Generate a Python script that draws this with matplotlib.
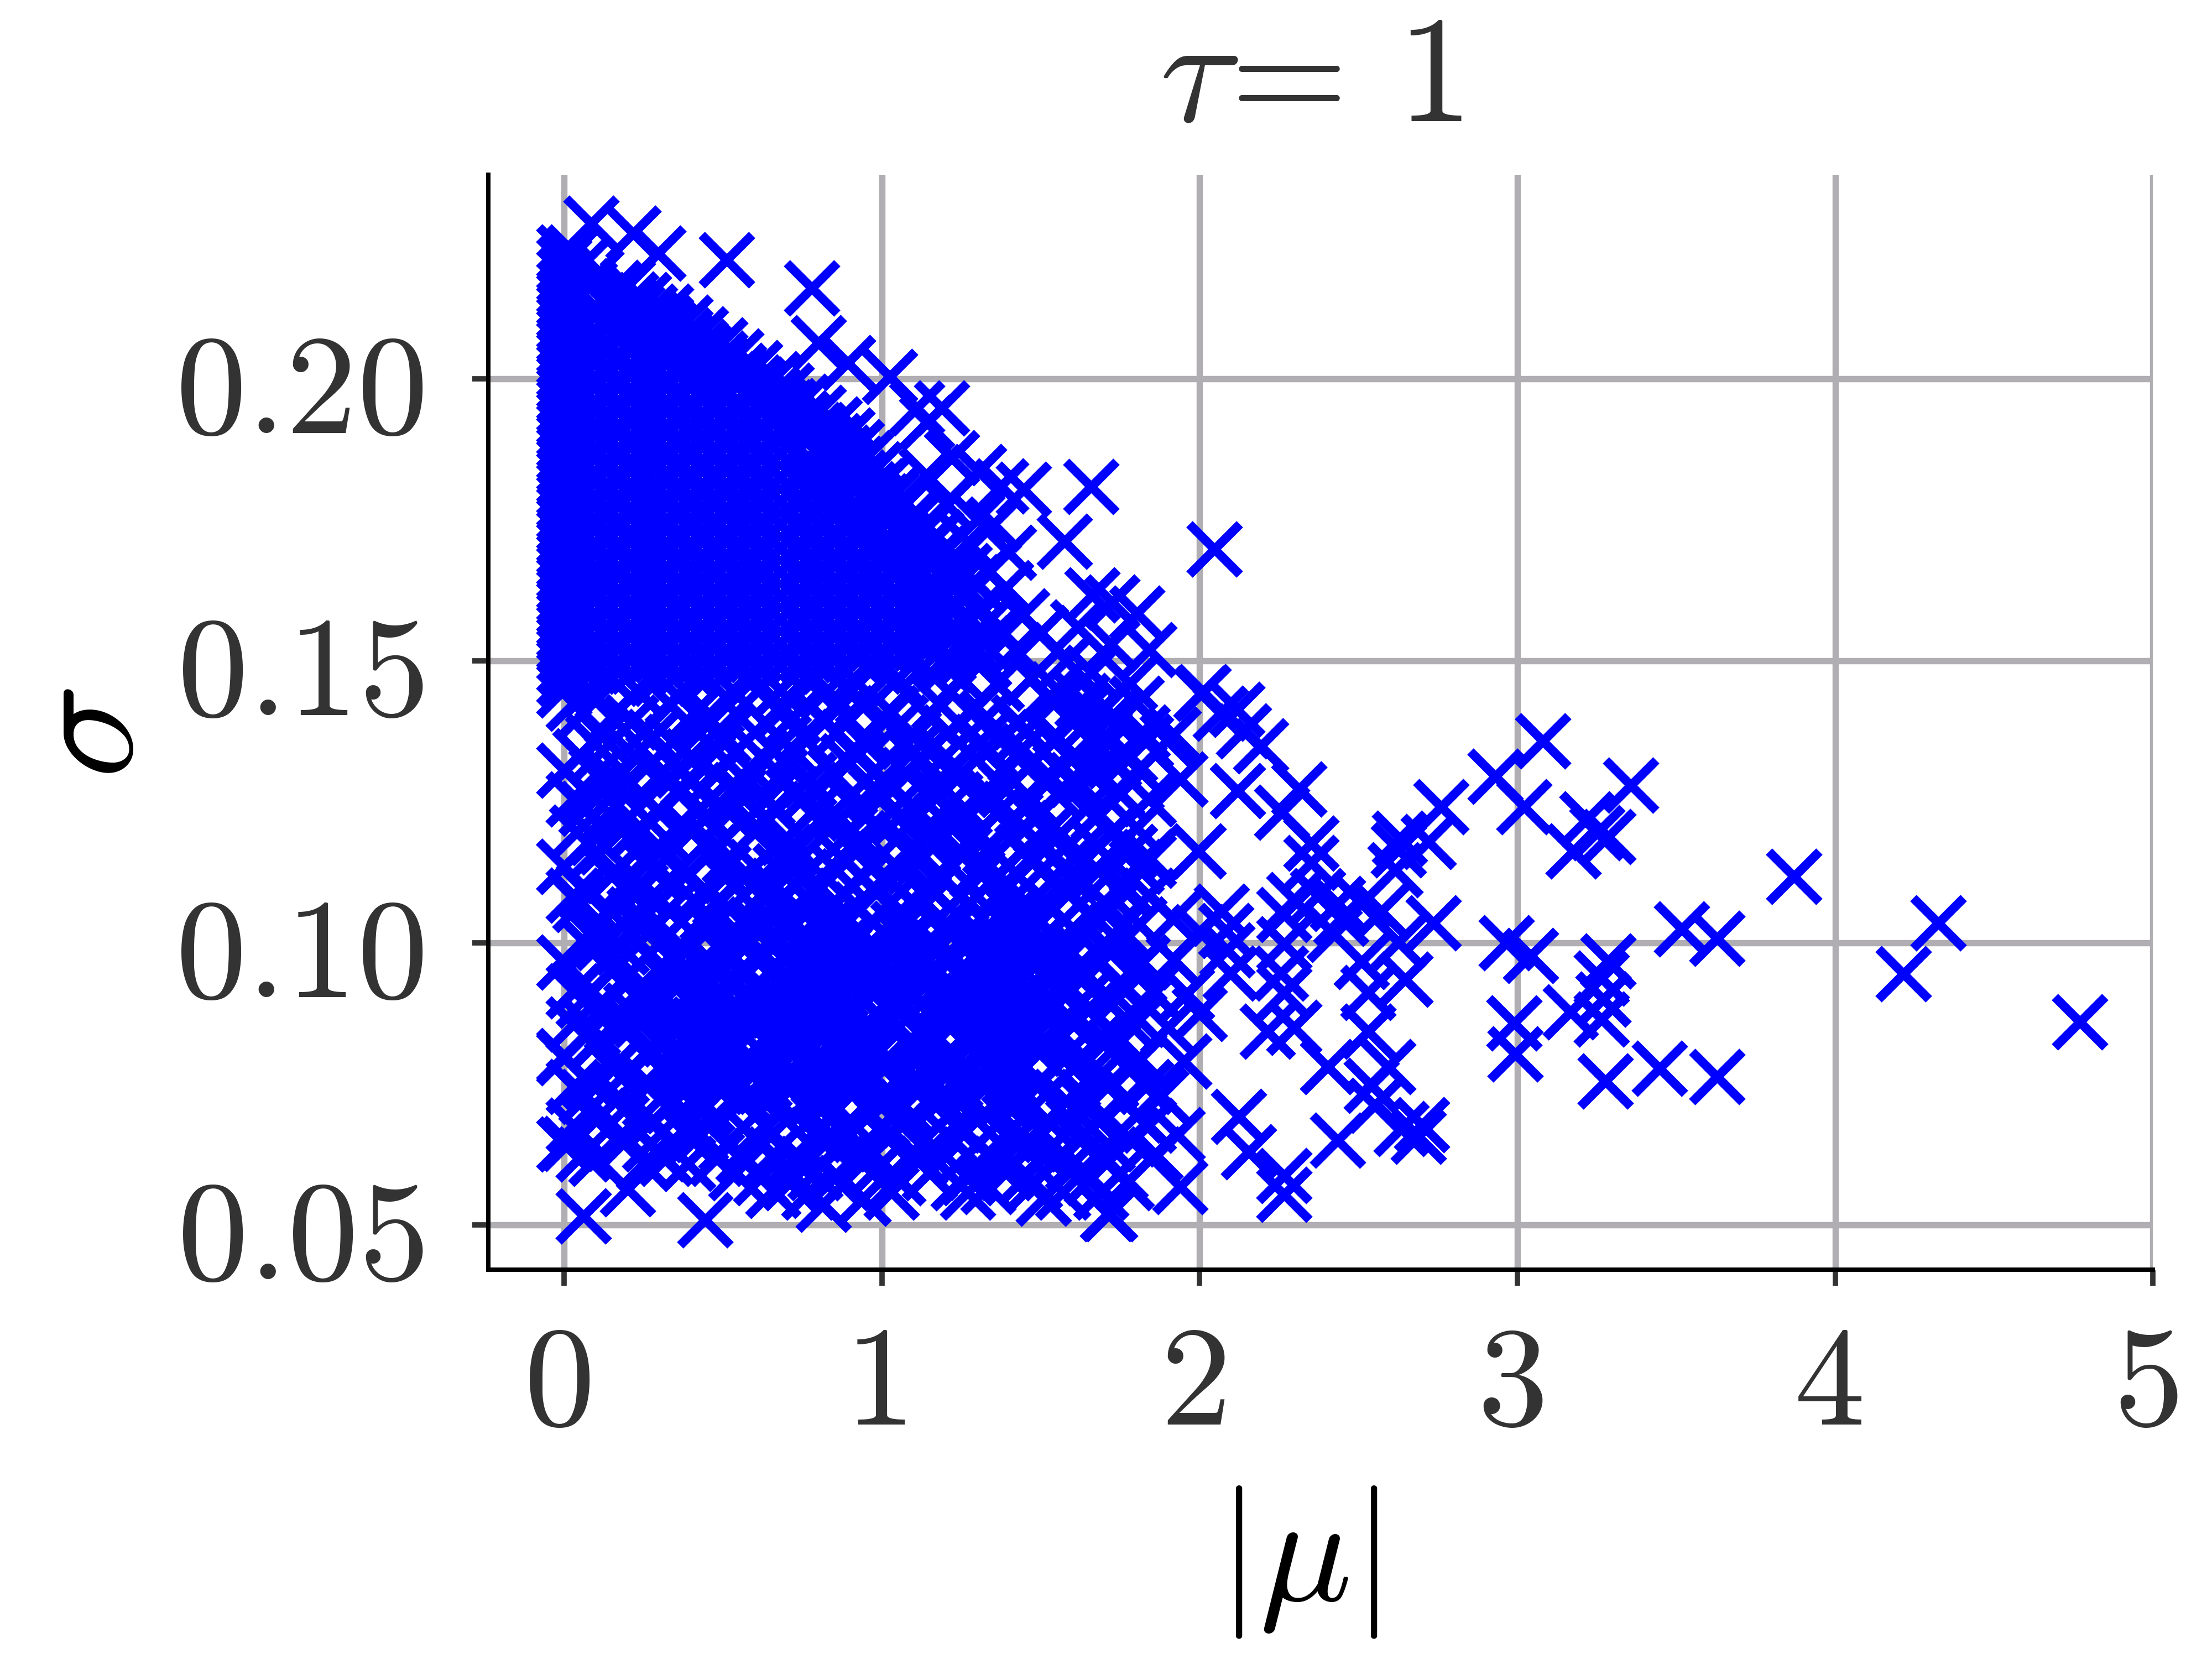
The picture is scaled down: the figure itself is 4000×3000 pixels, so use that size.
import matplotlib
matplotlib.use("Agg")
import matplotlib.pyplot as plt
from matplotlib.transforms import ScaledTranslation

plt.rcParams["mathtext.fontset"] = "cm"
plt.rcParams["font.family"] = "DejaVu Sans"

x_ticks = [0, 1, 2, 3, 4, 5]
x_tick_labels = ["$0$", "$1$", "$2$", "$3$", "$4$", "$5$"]
y_ticks = [0.05, 0.10, 0.15, 0.20]
y_tick_labels = ["$0.05$", "$0.10$", "$0.15$", "$0.20$"]

# solid upper block, read row by row (sigma level -> |mu| values)
block_sigma = [.2225, .2204, .2183, .2162, .2141, .2120, .2099, .2078, .2057, .2036,
               .2015, .1994, .1973, .1952, .1931, .1910, .1889, .1868, .1847, .1826,
               .1805, .1784, .1763, .1742, .1721, .1700, .1679, .1658, .1637, .1616,
               .1595, .1574, .1553, .1532, .1511, .1490, .1469, .1448]
block_mu = [
    [0, .03], [0, .06], [0, .10], [0, .08, .16], [0, .15, .21], [0, .08, .23, .27],
    [0, .15, .30, .32], [0, .08, .23, .38], [0, .15, .30, .43], [0, .08, .23, .38, .49],
    [0, .15, .30, .45, .55], [0, .08, .23, .38, .53, .60], [0, .15, .30, .45, .60, .66],
    [0, .08, .23, .38, .53, .68, .71], [0, .15, .30, .45, .60, .75], [0, .08, .23, .38, .53, .68, .79],
    [0, .15, .30, .45, .60, .76, .82], [0, .08, .23, .38, .53, .68, .83, .86],
    [0, .15, .30, .45, .60, .76, .89], [0, .08, .23, .38, .53, .68, .83, .93],
    [0, .15, .30, .45, .60, .76, .91, .96], [0, .08, .23, .38, .53, .68, .83, .98, 1.0],
    [0, .15, .30, .45, .60, .76, .91, 1.03], [0, .08, .23, .38, .53, .68, .83, .98, 1.07],
    [0, .15, .30, .45, .60, .76, .91, 1.06, 1.10], [0, .08, .23, .38, .53, .68, .83, .98, 1.13, 1.14],
    [0, .15, .30, .45, .60, .76, .91, 1.06, 1.17], [0, .08, .23, .38, .53, .68, .83, .98, 1.13, 1.21],
    [0, .15, .30, .45, .60, .76, .91, 1.06, 1.21, 1.24], [0, .08, .23, .38, .53, .68, .83, .98, 1.13, 1.27],
    [0, .15, .30, .45, .60, .76, .91, 1.06, 1.21, 1.31], [0, .08, .23, .38, .53, .68, .83, .98, 1.13, 1.28, 1.34],
    [0, .15, .30, .45, .60, .76, .91, 1.06, 1.21, 1.36], [0, .08, .23, .38, .53, .68, .83, .98, 1.13, 1.28, 1.32],
    [0, .15, .30, .45, .60, .76, .91, 1.06, 1.21, 1.27], [0, .08, .23, .38, .53, .68, .83, .98, 1.13, 1.2],
    [0, .15, .30, .45, .60, .76, .91, 1.05], [0, .08, .23, .38, .53, .68, .83, .9],
]

# crosses filling out the sloping edge of the block
slope_mu = [.20, .25, .32, .38, .43, .49, .54, .60, .66, .70, .75, .80, .85, .89, .92, .95, .98, 1.01, 1.04, 1.07,
            1.10, 1.14, 1.17, 1.20, 1.22, 1.26, 1.29,
            .15, .21, .27, .33, .38, .44, .49, .55, .61, .65, .70, .75, .80, .85, .88, .92, .96, .99, 1.03, 1.06,
            1.10, 1.13, 1.15, 1.18, 1.20, 1.23,
            1.2, 1.27, 1.33, 1.39, 1.44, 1.3, 1.22, 1.14,
            1.32, 1.42, 1.5, 1.58, 1.66, 1.72, 1.47, 1.55, 1.63, 1.7, 1.78, 1.36, 1.25]
slope_sigma = [.2165, .2140, .2120, .2100, .2080, .2060, .2040, .2020, .2000, .1980, .1960, .1940, .1920, .1900, .1880,
               .1860, .1840, .1820, .1800, .1780, .1760, .1740, .1720, .1700, .1680, .1660, .1640,
               .2150, .2130, .2110, .2090, .2070, .2050, .2030, .2010, .1990, .1970, .1950, .1930, .1910, .1890, .1870,
               .1850, .1830, .1810, .1790, .1770, .1750, .1730, .1710, .1690, .1670, .1650,
               .178, .171, .166, .163, .158, .175, .186, .183,
               .15, .152, .155, .15, .148, .153, .147, .145, .143, .142, .146, .146, .147]

# lower region with small gaps between markers
mid_sigma = [.1425, .1408, .1391, .1374, .1357, .1340, .1323, .1306, .1289, .1272,
             .1255, .1238, .1221, .1204, .1187, .1170, .1153, .1136, .1119, .1102,
             .1085, .1068, .1051, .1034, .1017, .1000, .0983, .0966, .0949, .0932,
             .0915, .0898, .0881, .0864, .0847, .0830, .0813, .0796, .0779, .0762,
             .0745, .0728, .0711, .0694, .0677, .0660, .0643, .0626, .0609, .0592,
             .0575, .0558]
mid_mu = [
    [.03, .33, .57, .93, 1.18, 1.54, 1.80], [.06, .41, .68, 1.03, 1.28, 1.63], [.21, .46, .82, 1.06, 1.43, 1.65],
    [.25, .60, .86, 1.21, 1.45, 1.82], [.09, .34, .69, .94, 1.31, 1.54, 1.83], [.12, .48, .72, 1.10, 1.32, 1.69],
    [.28, .51, .89, 1.11, 1.48, 1.73], [0, .37, .59, .98, 1.21, 1.56, 1.81], [.16, .39, .77, 1.0, 1.36, 1.61],
    [.17, .55, .78, 1.16, 1.39, 1.74], [.03, .26, .64, .89, 1.23, 1.47, 1.84], [.07, .43, .66, 1.04, 1.26, 1.64],
    [.20, .44, .83, 1.05, 1.42, 1.67], [.24, .61, .84, 1.22, 1.44, 1.80], [.10, .32, .70, .93, 1.29, 1.55],
    [.13, .48, .72, 1.09, 1.34, 1.68], [.26, .52, .87, 1.13, 1.47, 1.71], [0, .37, .60, .96, 1.22, 1.58, 1.80],
    [.15, .38, .75, 1.01, 1.36, 1.59], [.19, .53, .80, 1.14, 1.40, 1.76], [.03, .28, .62, .88, 1.25, 1.49, 1.84],
    [.05, .42, .67, 1.02, 1.27, 1.62], [.22, .45, .81, 1.07, 1.41, 1.66], [.23, .60, .85, 1.20, 1.46, 1.81],
    [.08, .33, .70, .94, 1.31, 1.53], [.12, .49, .73, 1.08, 1.33, 1.70], [.27, .50, .88, 1.12, 1.49, 1.72],
    [0, .35, .61, .97, 1.20, 1.57, 1.82], [.15, .40, .76, .99, 1.36, 1.60], [.18, .54, .78, 1.15, 1.38, 1.75],
    [.03, .27, .64, .87, 1.24, 1.47, 1.85], [.06, .41, .67, 1.03, 1.28, 1.63], [.21, .46, .82, 1.05, 1.42, 1.65],
    [.24, .59, .85, 1.21, 1.44, 1.81], [.09, .34, .69, .93, 1.30, 1.55], [.11, .48, .72, 1.09, 1.34, 1.68],
    [.27, .52, .88, 1.11, 1.48, 1.73], [0, .36, .59, .97, 1.22, 1.57, 1.81], [.15, .39, .76, 1.01, 1.35, 1.60],
    [.18, .54, .80, 1.15, 1.40, 1.68], [.03, .26, .63, .88, 1.23, 1.49, 1.83], [.07, .42, .66, 1.03, 1.27, 1.64],
    [.20, .45, .82, 1.07, 1.42, 1.65], [.25, .60, .84, 1.21, 1.45, 1.80], [.03, .39, .63, 1.0, 1.23, 1.60, 1.84],
    [.18, .43, .79, 1.02, 1.39, 1.64], [0, .27, .51, .87, 1.12, 1.47, 1.71], [.06, .30, .66, .92, 1.27, 1.51, 1.86],
    [.25, .39, .76, 1.0, 1.37, 1.60], [.54, .79, 1.15, 1.39, 1.75], [.71, .88, 1.24, 1.48, 1.77],
    [.77, 1.03, 1.27, 1.57, 1.69],
]

# more crosses over the same lower region, leaving only small holes
fill_sigma = [.1400, .1366, .1332, .1298, .1264, .1230, .1196, .1162, .1128, .1094, .1060, .1026, .0992,
              .0958, .0924, .0890, .0856, .0822, .0788, .0754, .0720, .0686, .0652, .0618, .0584]
fill_mu = [
    [.15, .45, .72, 1.0, 1.15, 1.33, 1.6, 1.72], [.12, .28, .5, .75, .95, 1.1, 1.38, 1.55, 1.7],
    [.05, .22, .4, .62, .92, 1.2, 1.42, 1.6, 1.78], [.1, .3, .48, .68, .85, 1.08, 1.25, 1.52, 1.66],
    [.08, .36, .55, .72, .98, 1.16, 1.34, 1.55, 1.75], [.14, .3, .52, .78, .95, 1.12, 1.36, 1.5, 1.68],
    [.04, .22, .4, .6, .9, 1.15, 1.3, 1.52, 1.72], [.1, .3, .46, .7, .92, 1.08, 1.25, 1.44, 1.62, 1.78],
    [.16, .28, .5, .68, .86, 1.06, 1.3, 1.5, 1.68], [.06, .24, .44, .66, .78, .98, 1.16, 1.38, 1.58, 1.76],
    [.14, .33, .52, .74, .93, 1.12, 1.34, 1.54, 1.72], [.1, .28, .46, .62, .82, 1.05, 1.22, 1.42, 1.6, 1.75],
    [.08, .18, .37, .57, .78, .95, 1.18, 1.38, 1.58, 1.7], [.16, .3, .48, .67, .88, 1.1, 1.26, 1.48, 1.62, 1.8],
    [.05, .25, .42, .6, .8, 1.0, 1.2, 1.4, 1.58, 1.75], [.13, .3, .53, .7, .9, 1.12, 1.32, 1.55, 1.72],
    [.03, .2, .42, .62, .83, 1.02, 1.22, 1.44, 1.6, 1.78], [.1, .3, .5, .72, .95, 1.15, 1.35, 1.52, 1.7],
    [.17, .38, .58, .8, 1.0, 1.2, 1.42, 1.62, 1.8], [.08, .26, .46, .68, .88, 1.1, 1.3, 1.5, 1.72],
    [.16, .35, .56, .78, .98, 1.18, 1.38, 1.58, 1.76], [.1, .28, .46, .7, .9, 1.08, 1.3, 1.52, 1.68],
    [.2, .4, .6, .82, 1.02, 1.22, 1.42, 1.62, 1.78], [.1, .32, .48, .72, .95, 1.12, 1.35, 1.55, 1.7],
    [.62, .85, 1.05, 1.27, 1.45, 1.66],
]

# denser patch around mu 0.5-1.5, sigma 0.07-0.10
patch_sigma = [.1017, .1000, .0983, .0966, .0949, .0932, .0915, .0898, .0881,
               .0864, .0847, .0830, .0813, .0796, .0779, .0762, .0745, .0728]
patch_mu = [
    [.55, .85, 1.09, 1.46], [.64, .88, 1.24, 1.49], [.72, .97, 1.33, 1.52],
    [.45, .82, 1.06, 1.42], [.55, .91, 1.15, 1.51], [.33, .69, .93, 1.30, 1.53],
    [.48, .73, 1.09, 1.33], [.24, .57, .82, 1.18, 1.42], [.36, .67, .91, 1.27, 1.51],
    [.45, .76, 1.00, 1.36], [.18, .55, .78, 1.15, 1.39], [.33, .63, .87, 1.25, 1.47],
    [.42, .73, .97, 1.33], [.51, .75, 1.12, 1.36], [.30, .60, .85, 1.21, 1.45],
    [.39, .70, .94, 1.30], [.48, .72, 1.09, 1.33], [.57, .82, 1.18, 1.42],
]

# separate crosses along the top edge of the block
edge_mu = [.085, .217, .295, .512, .780, .80, .893, 1.025, 1.188, 1.11, 1.142, 1.445, 1.375, 1.305,
           1.659, 1.575, 2.046, 1.662, 1.725, 1.802, 1.841, 1.616, 2.004, 1.398, 1.351]
edge_sigma = [.2276, .2258, .2223, .2211, .2161, .2064, .2029, .2004, .1948, .1948, .1923, .1804, .181, .1835,
              .1809, .1712, .1698, .1617, .1604, .1585, .152, .156, .1442, .1692, .1742]

# separate crosses right of the mass and along its lower edge
right_mu = [2.312, 2.259, 2.12, 1.938, 2.192, 2.065, 2.012, 2.118, 2.139, 1.917, 1.995, 1.837, 2.35, 2.35,
            2.297, 2.371, 2.435, 2.509, 2.445, 2.266, 2.266, 2.424, 2.625, 2.572, 2.509, 2.646, 2.53, 2.266,
            2.255, 2.082, 2.069, 1.917, 2.086, 2.097, 2.213, 2.297, 2.53, 2.403, 2.593, 2.54, 2.551, 2.699,
            2.435, 2.635, 2.688, 2.122, 2.154, 2.266, 2.266, 1.938, 1.717, .0605, .443, .199, .014, .563,
            .657, 1.71, .941, .815, 1.335, 1.508, 0, 0, 1.84, 1.898, 1.92, 1.96, 1.9, 2.0, 1.95, 1.88, 2.0, 1.93]
right_sigma = [.1273, .1232, .127, .129, .1349, .1407, .1445, .1414, .1376, .137, .1163, .1153, .1177, .1142,
               .1077, .1084, .107, .107, .1043, .105, .0998, .1015, .1001, .1056, .0967, .0936, .0912, .0912,
               .0946, .1022, .1056, .1043, .0988, .0946, .0843, .085, .0843, .0781, .0781, .0747, .0712, .0678,
               .065, .0671, .0657, .0692, .063, .0588, .0554, .0568, .052, .0516, .0509, .0564, .0644, .0623,
               .0561, .052, .0547, .0537, .0568, .0547, .1136, .08, .1146, .1359, .097, .091, .085, .102, .079, .073, .0875, .066]

# far outliers
outlier_mu = [4.77, 4.325, 4.214, 3.87, 3.628, 3.517, 3.628, 3.447, 3.277, 3.286, 3.264, 3.27, 3.264, 3.167,
              3.042, 2.966, 2.99, 2.993, 3.357, 3.08, 2.93, 3.02, 3.175, 3.22, 3.25, 3.286, 2.76, 2.72,
              2.63, 2.625, 2.615, 2.735]
outlier_sigma = [.086, .1036, .0945, .1118, .1008, .1025, .0763, .0778, .0755, .0968, .0938, .09, .0865, .0878,
                 .0978, .100, .0858, .0803, .128, .1358, .1295, .1241, .1163, .122, .1195, .1188, .1241, .118,
                 .1186, .1165, .113, .1036]

mu = list(edge_mu) + list(right_mu) + list(outlier_mu) + list(slope_mu)
sigma = list(edge_sigma) + list(right_sigma) + list(outlier_sigma) + list(slope_sigma)
for level, row in zip(block_sigma + mid_sigma + fill_sigma + patch_sigma, block_mu + mid_mu + fill_mu + patch_mu):
    mu += row
    sigma += [level] * len(row)

fig = plt.figure(figsize=(8, 6), dpi=500)
ax = fig.add_axes([0.2208, 0.2347, 0.7525, 0.66])

ax.scatter(mu, sigma, marker="x", s=172, linewidths=2.35, color="#0000ff", zorder=3)

ax.set_xlim(-0.2385, 5.0)
ax.set_ylim(0.0421, 0.2362)
ax.set_xticks(x_ticks)
ax.set_xticklabels(x_tick_labels)
ax.set_yticks(y_ticks)
ax.set_yticklabels(y_tick_labels)
ax.grid(True, color="#b0aeb2", linewidth=1.65)
ax.set_axisbelow(True)
ax.tick_params(axis="both", labelsize=37, labelcolor="#333333", color="#333333",
               length=4.2, width=1.4)
ax.tick_params(axis="x", pad=8)
ax.tick_params(axis="y", pad=12.8)
for side in ["top", "right"]:
    ax.spines[side].set_visible(False)
for side in ["left", "bottom"]:
    ax.spines[side].set_linewidth(1.15)
    ax.spines[side].set_color("black")

# x tick digits sit slightly left of their ticks in the reference
for label in ax.get_xticklabels():
    label.set_transform(label.get_transform() + ScaledTranslation(-1.9 / 72, 0, fig.dpi_scale_trans))

ax.set_title(r"$\tau\!=\/1$", fontsize=39.5, color="#333333", pad=14, x=0.494)
ax.set_xlabel(r"$|\mu|$", fontsize=40, color="black", labelpad=8, x=0.486)
ax.set_ylabel(r"$\sigma$", fontsize=41, color="black", labelpad=2.7, y=0.49)

fig.savefig("out.png", dpi=500)
